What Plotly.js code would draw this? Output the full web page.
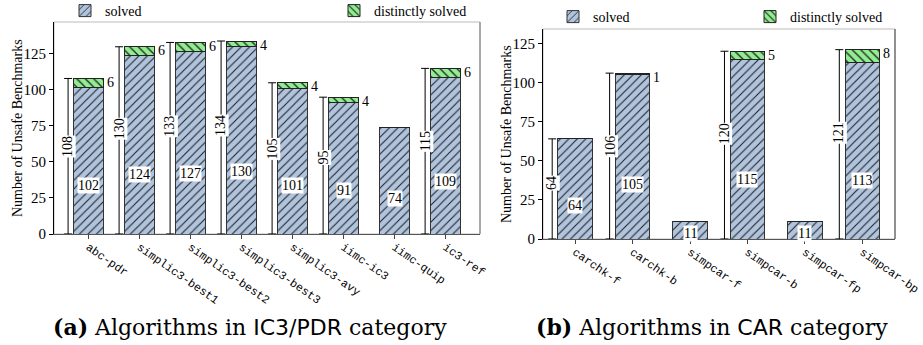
<!DOCTYPE html>
<html>
<head>
<meta charset="utf-8">
<script src="https://cdn.plot.ly/plotly-3.0.1.min.js"></script>
<style>html,body{margin:0;padding:0;background:#fff;}#chart{width:923px;height:345px;}</style>
</head>
<body>
<div id="chart"></div>
<script>
// ---- data ----
const ic3Algos = ['abc-pdr','simplic3-best1','simplic3-best2','simplic3-best3','simplic3-avy','iimc-ic3','iimc-quip','ic3-ref'];
const ic3Solved = [102,124,127,130,101,91,74,109];
const ic3Distinct = [6,6,6,4,4,4,0,6];
const ic3Total = [108,130,133,134,105,95,null,115];

const carAlgos = ['carchk-f','carchk-b','simpcar-f','simpcar-b','simpcar-fp','simpcar-bp'];
const carSolved = [64,105,11,115,11,113];
const carDistinct = [0,1,0,5,0,8];
const carTotal = [64,106,null,120,null,121];

const yTicks = [0,25,50,75,100,125];

// ---- styles ----
const W = 923, H = 345;
const SERIF = 'Liberation Serif, Times New Roman, serif';
const CAPFONT = 'DejaVu Serif, serif';
const MONO = 'Liberation Mono, Courier New, monospace';
const BLUE = '#b0c4de', GREEN = '#90ee90';
const px = v => v / W, py = v => (H - v) / H;

function idx(a){ return a.map((_, i) => i); }

function solvedTrace(cats, vals, ax, legend){
  return {type:'bar', x: idx(cats), y: vals, xaxis: 'x'+ax, yaxis: 'y'+ax, width: 0.6,
    name: 'solved', legend: legend, showlegend: true,
    marker: {color: BLUE, line: {color: '#333', width: 1},
      pattern: {shape: '/', fillmode: 'replace', bgcolor: BLUE, fgcolor: '#222', size: 6, solidity: 0.18}}};
}
function distinctTrace(cats, vals, ax, legend){
  return {type:'bar', x: idx(cats), y: vals, xaxis: 'x'+ax, yaxis: 'y'+ax, width: 0.6,
    name: 'distinctly solved', legend: legend, showlegend: true,
    marker: {color: GREEN, line: {color: '#222', width: 1},
      pattern: {shape: '\\', fillmode: 'replace', bgcolor: GREEN, fgcolor: '#222', size: 6, solidity: 0.22}}};
}
function totalTrace(cats, tot, ax){
  return {type:'scatter', mode:'markers', x: idx(cats).map(i => i - 0.4),
    y: tot.map(t => t === null ? null : 0), xaxis: 'x'+ax, yaxis: 'y'+ax, showlegend: false,
    marker: {size: 1, color: 'rgba(0,0,0,0)'}, hoverinfo: 'skip',
    error_y: {type: 'data', symmetric: false, array: tot.map(t => t === null ? 0 : t),
      arrayminus: tot.map(() => 0), color: '#000', thickness: 1, width: 4}};
}

const data = [
  solvedTrace(ic3Algos, ic3Solved, '', 'legend'),
  distinctTrace(ic3Algos, ic3Distinct, '', 'legend2'),
  totalTrace(ic3Algos, ic3Total, ''),
  solvedTrace(carAlgos, carSolved, '2', 'legend3'),
  distinctTrace(carAlgos, carDistinct, '2', 'legend4'),
  totalTrace(carAlgos, carTotal, '2')
];

function ann(cats, solved, distinct, tot, ax){
  const out = [];
  cats.forEach((c, i) => {
    out.push({xref: 'x'+ax, yref: 'y'+ax, x: i, y: solved[i] / 3, text: String(solved[i]),
      showarrow: false, bgcolor: '#fff', borderpad: 0, font: {family: SERIF, size: 14, color: '#000'}});
    if (tot[i] !== null) {
      out.push({xref: 'x'+ax, yref: 'y'+ax, x: i - 0.4, y: tot[i] * 0.56, text: String(tot[i]),
        textangle: -90, showarrow: false, bgcolor: '#fff', borderpad: 0, font: {family: SERIF, size: 14, color: '#000'}});
    }
    if (distinct[i] > 0) {
      out.push({xref: 'x'+ax, yref: 'y'+ax, x: i + 0.3, y: solved[i] + distinct[i], xanchor: 'left',
        yanchor: 'middle', xshift: 1, yshift: -4, text: String(distinct[i]), showarrow: false,
        font: {family: SERIF, size: 14, color: '#000'}});
    }
  });
  return out;
}

const xBase = {tickmode: 'array', tickangle: 35, ticks: 'outside', ticklen: 4, tickcolor: '#444',
  showline: true, linecolor: '#555', linewidth: 1, showgrid: false, zeroline: false, automargin: false,
  ticklabeloverflow: 'allow', ticklabelstandoff: -3,
  tickfont: {family: MONO, size: 11.5, color: '#000'}};
const yBase = {tickmode: 'array', tickvals: yTicks, ticks: 'outside', ticklen: 4, tickcolor: '#000',
  showline: true, linecolor: '#000', linewidth: 1, showgrid: false, zeroline: false, automargin: false,
  tickfont: {family: SERIF, size: 15, color: '#000'}};

function leg(x, y){
  return {orientation: 'h', x: px(x), y: py(y), xanchor: 'left', yanchor: 'top', bgcolor: 'rgba(0,0,0,0)',
    font: {family: SERIF, size: 14, color: '#000'}};
}

const layout = {
  width: W, height: H, margin: {l: 0, r: 0, t: 0, b: 0, autoexpand: false}, paper_bgcolor: '#fff', plot_bgcolor: '#fff',
  barmode: 'stack', bargap: 0, showlegend: true,
  xaxis: Object.assign({}, xBase, {domain: [px(54), px(480)], range: [-0.676, 7.676],
    tickvals: idx(ic3Algos), ticktext: ic3Algos, anchor: 'y'}),
  yaxis: Object.assign({}, yBase, {domain: [py(234), py(22)], range: [0, 147.2], anchor: 'x'}),
  xaxis2: Object.assign({}, xBase, {domain: [px(543), px(895)], range: [-0.56, 5.57],
    tickvals: idx(carAlgos), ticktext: carAlgos, anchor: 'y2'}),
  yaxis2: Object.assign({}, yBase, {domain: [py(239), py(29)], range: [0, 134.2], anchor: 'x2'}),
  legend: leg(65, -5),
  legend2: leg(334, -5),
  legend3: leg(553, 1),
  legend4: leg(750, 1),
  shapes: [
    {type: 'rect', xref: 'x domain', yref: 'y domain', x0: 0, x1: 1, y0: 0, y1: 1, line: {color: '#bbb', width: 1}, layer: 'below'},
    {type: 'line', xref: 'x domain', yref: 'y domain', x0: 1, x1: 1, y0: 0, y1: 1, line: {color: '#777', width: 1}},
    {type: 'rect', xref: 'x2 domain', yref: 'y2 domain', x0: 0, x1: 1, y0: 0, y1: 1, line: {color: '#bbb', width: 1}, layer: 'below'},
    {type: 'line', xref: 'x2 domain', yref: 'y2 domain', x0: 1, x1: 1, y0: 0, y1: 1, line: {color: '#444', width: 1}}
  ],
  annotations: [].concat(
    ann(ic3Algos, ic3Solved, ic3Distinct, ic3Total, ''),
    ann(carAlgos, carSolved, carDistinct, carTotal, '2'),
    [
      {xref: 'paper', yref: 'paper', x: px(17), y: py(128), xanchor: 'center', yanchor: 'middle',
        text: 'Number of Unsafe Benchmarks', textangle: -90,
        showarrow: false, font: {family: SERIF, size: 14, color: '#000'}},
      {xref: 'paper', yref: 'paper', x: px(506), y: py(134), xanchor: 'center', yanchor: 'middle',
        text: 'Number of Unsafe Benchmarks', textangle: -90,
        showarrow: false, font: {family: SERIF, size: 14, color: '#000'}},
      {xref: 'paper', yref: 'paper', x: px(250), y: py(327), showarrow: false, xanchor: 'center', yanchor: 'middle',
        text: '<b>(a)</b> Algorithms in <span style="font-family:DejaVu Sans">IC3</span>/<span style="font-family:DejaVu Sans">PDR</span> category',
        font: {family: CAPFONT, size: 22, color: '#000'}},
      {xref: 'paper', yref: 'paper', x: px(712), y: py(327), showarrow: false, xanchor: 'center', yanchor: 'middle',
        text: '<b>(b)</b> Algorithms in <span style="font-family:DejaVu Sans">CAR</span> category',
        font: {family: CAPFONT, size: 22, color: '#000'}}
    ])
};

Plotly.newPlot('chart', data, layout, {staticPlot: true, displayModeBar: false});
</script>
</body>
</html>
